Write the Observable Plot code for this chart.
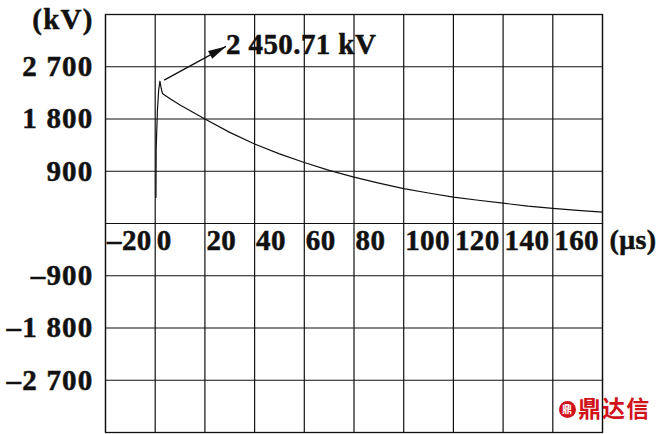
<!DOCTYPE html>
<html>
<head>
<meta charset="utf-8">
<script src="https://cdn.jsdelivr.net/npm/d3@7"></script>
<script src="https://cdn.jsdelivr.net/npm/@observablehq/plot@0.6"></script>
<style>
  html, body { margin: 0; padding: 0; background: #fff; }
  g[text-anchor="start"] { letter-spacing: 0.4px; }
</style>
</head>
<body>
<div id="chart"></div>
<script>
// Waveform: time (µs) and voltage (kV)
const times    = [0.3, 0.4, 0.9, 1.4, 1.9, 2.4, 2.9, 3.9, 6, 10, 15, 20, 30, 40, 50, 60, 70, 80, 90, 100, 110, 120, 130, 140, 150, 160, 170, 180];
const voltages = [450, 1300, 1950, 2300, 2450.71, 2330, 2240, 2210, 2150, 2040, 1920, 1800, 1570, 1370, 1200, 1050, 915, 800, 695, 600, 525, 455, 400, 350, 300, 260, 225, 195];

// Axis ticks
const xTicks = [-20, 0, 20, 40, 60, 80, 100, 120, 140, 160];
const xGrid  = [-20, 0, 20, 40, 60, 80, 100, 120, 140, 160, 180];
const yTicks = [-2700, -1800, -900, 900, 1800, 2700];
const yGrid  = [-2700, -1800, -900, 0, 900, 1800, 2700];

// Peak annotation
const peakLabel = ["2 450.71 kV"];
const arrowFrom = [3.6, 2470];
const arrowTo   = [28.5, 3050];

const yUnit = "(kV)";
const xUnit = "(μs)";
const watermark = "鼎达信";

const data = times.map((t, i) => ({t, v: voltages[i]}));

const fmt = d => {
  const a = Math.abs(d);
  const s = a >= 1000 ? Math.floor(a / 1000) + " " + String(a % 1000).padStart(3, "0") : String(a);
  return (d < 0 ? "\u2013" : "") + s;
};

const headSymbol = {
  draw(ctx) {
    ctx.moveTo(0, 0);
    ctx.lineTo(-4.5, 18);
    ctx.lineTo(4.5, 18);
    ctx.closePath();
  }
};

const FS = 29;
const ink = "#111";
const txt = {fontSize: FS, fill: ink, stroke: ink, strokeWidth: 0.5};

const chart = Plot.plot({
  width: 659,
  height: 434,
  marginLeft: 105,
  marginRight: 57,
  marginTop: 14,
  marginBottom: 2,
  style: {
    fontFamily: "'Liberation Serif', 'Times New Roman', serif",
    fontWeight: "bold",
    letterSpacing: "1.2px",
    color: ink,
    background: "#fff"
  },
  x: {domain: [-20, 180], axis: null},
  y: {domain: [-3600, 3600], axis: null},
  marks: [
    Plot.gridX(xGrid, {stroke: ink, strokeOpacity: 1, strokeWidth: 1.2}),
    Plot.gridY(yGrid, {stroke: ink, strokeOpacity: 1, strokeWidth: 1.2}),
    Plot.frame({stroke: ink, strokeWidth: 1.3}),
    Plot.text(yTicks, {...txt, y: d => d, text: fmt, frameAnchor: "left", dx: -12, textAnchor: "end", lineAnchor: "middle"}),
    Plot.text(xTicks, {...txt, x: d => d, y: () => 0, text: fmt, textAnchor: "start", dx: 1.5, dy: 17, lineAnchor: "middle"}),
    Plot.text([yUnit], {...txt, frameAnchor: "top-left", dx: -12, dy: 5, textAnchor: "end", lineAnchor: "middle"}),
    Plot.text([xUnit], {...txt, frameAnchor: "right", y: () => 0, dx: 7, dy: 17, textAnchor: "start", lineAnchor: "middle", fontSize: 28}),
    Plot.line(data, {x: "t", y: "v", stroke: ink, strokeWidth: 1.2}),
    Plot.link([0], {x1: () => arrowFrom[0], y1: () => arrowFrom[1], x2: () => arrowTo[0], y2: () => arrowTo[1], stroke: ink, strokeWidth: 1.3}),
    Plot.dot([0], {x: () => arrowTo[0], y: () => arrowTo[1], symbol: headSymbol, fill: ink, stroke: null, rotate: 62, r: 5}),
    Plot.text(peakLabel, {...txt, x: () => arrowTo[0], y: () => arrowTo[1], textAnchor: "start", lineAnchor: "middle", dx: 0, dy: -2}),
    Plot.dot([0], {frameAnchor: "bottom-right", dx: -35, dy: -23, r: 8.5, fill: "#d0121b", stroke: null}),
    Plot.text(["鼎"], {frameAnchor: "bottom-right", dx: -35, dy: -23, fontSize: 10, fill: "#fff", fontFamily: "'Noto Sans CJK SC'", lineAnchor: "middle", textAnchor: "middle"}),
    Plot.text([watermark], {frameAnchor: "bottom-right", dx: 48, dy: -23, textAnchor: "end", lineAnchor: "middle", fontSize: 23, fill: "#d0121b", fontFamily: "'Noto Sans CJK SC'", fontWeight: "bold"})
  ]
});

document.getElementById("chart").appendChild(chart);
</script>
</body>
</html>
